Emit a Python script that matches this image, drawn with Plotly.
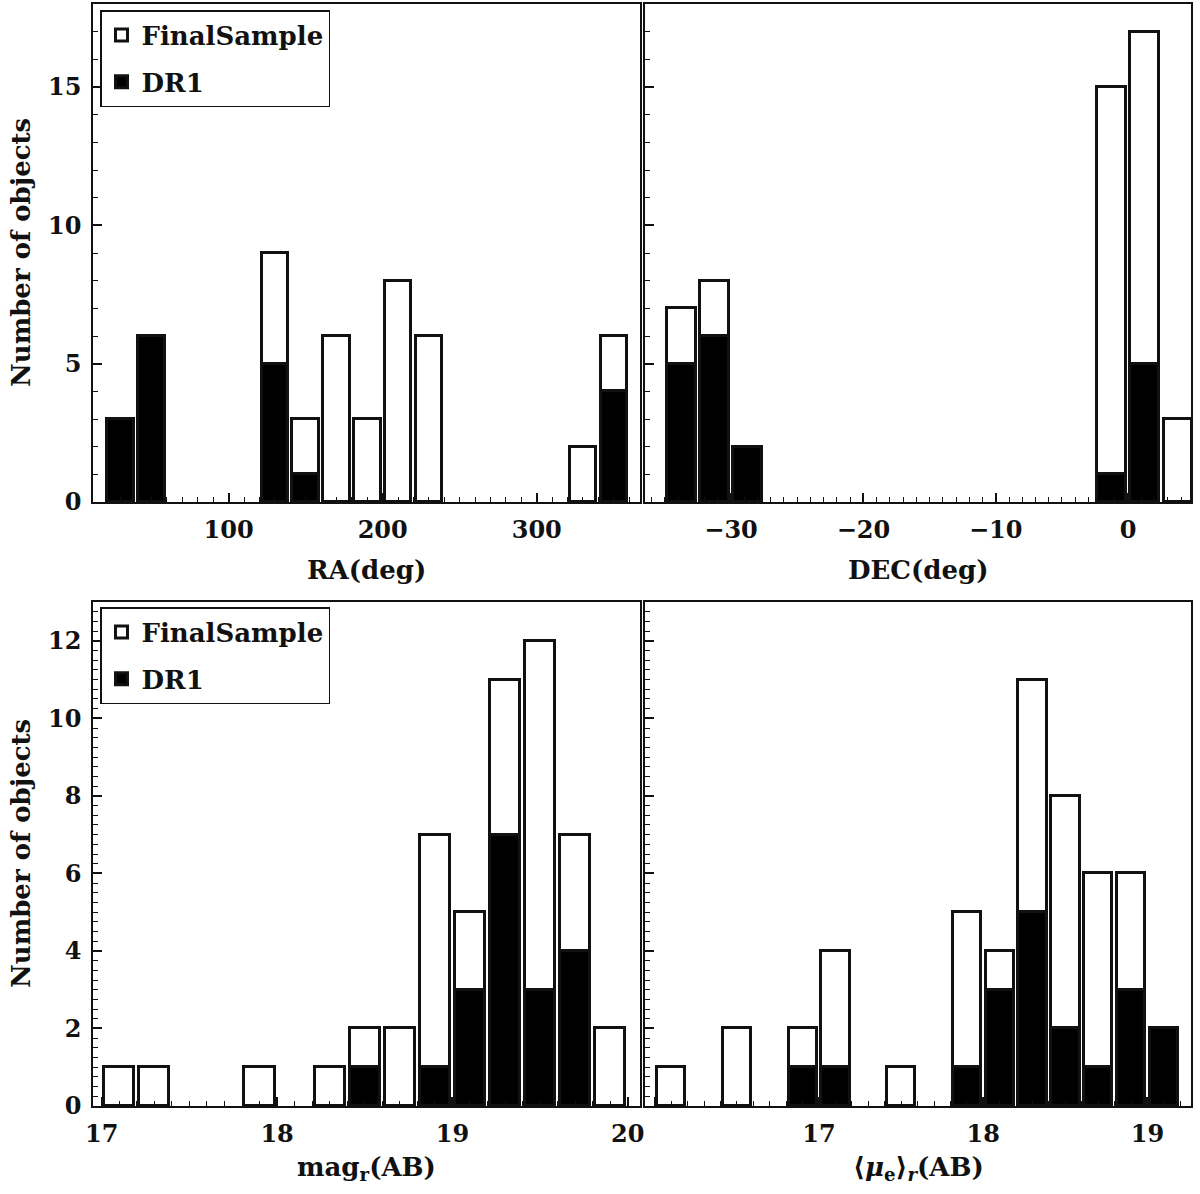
import plotly.graph_objects as go

# RA histogram (bin width 20 deg)
ra_centers = [30, 50, 130, 150, 170, 190, 210, 230, 330, 350]
ra_final = [3, 6, 9, 3, 6, 3, 8, 6, 2, 6]
ra_dr1 = [3, 6, 5, 1, 0, 0, 0, 0, 0, 4]

# DEC histogram (bin width 2.5 deg)
dec_centers = [-33.75, -31.25, -28.75, -1.25, 1.25, 3.75]
dec_final = [7, 8, 2, 15, 17, 3]
dec_dr1 = [5, 6, 2, 1, 5, 0]

# mag_r histogram (bin width 0.2)
mag_centers = [17.1, 17.3, 17.9, 18.3, 18.5, 18.7, 18.9, 19.1, 19.3, 19.5, 19.7, 19.9]
mag_final = [1, 1, 1, 1, 2, 2, 7, 5, 11, 12, 7, 2]
mag_dr1 = [0, 0, 0, 0, 1, 0, 1, 3, 7, 3, 4, 0]

# <mu_e>_r histogram (bin width 0.2)
mu_centers = [16.1, 16.5, 16.9, 17.1, 17.5, 17.9, 18.1, 18.3, 18.5, 18.7, 18.9, 19.1]
mu_final = [1, 2, 2, 4, 1, 5, 4, 11, 8, 6, 6, 2]
mu_dr1 = [0, 0, 1, 1, 0, 1, 3, 5, 2, 1, 3, 2]

W, H = 1200, 1194
FONT = "DejaVu Serif"
INK = "#111111"


def fx(px):
    return px / W


def fy(py):
    return 1 - py / H


# panel pixel boxes: (left, right, top, bottom)
boxes = {
    1: (93, 640, 4, 502),
    2: (645, 1191, 4, 502),
    3: (93, 640, 602, 1106),
    4: (645, 1191, 602, 1106),
}

panels = [
    # idx, centers, final, dr1, binwidth, xrange, yrange, xticks, xminor, ymaj, ymin, legend
    (1, ra_centers, ra_final, ra_dr1, 20, [12, 367], [0, 18], [100, 200, 300], 10, 5, 1, "legend"),
    (2, dec_centers, dec_final, dec_dr1, 2.5, [-36.5, 4.75], [0, 18], [-30, -20, -10, 0], 1, 5, 1, None),
    (3, mag_centers, mag_final, mag_dr1, 0.2, [16.95, 20.07], [0, 13], [17, 18, 19, 20], 0.1, 2, 0.25, "legend2"),
    (4, mu_centers, mu_final, mu_dr1, 0.2, [15.94, 19.265], [0, 13], [16, 17, 18, 19], 0.1, 2, 0.25, None),
]

fig = go.Figure()
layout = {}

for idx, cx, fin, dr1, bw, xr, yr, xt, xmin, ymaj, ymin, leg in panels:
    sfx = "" if idx == 1 else str(idx)
    xa, ya = "x" + sfx, "y" + sfx
    width = bw * 0.86
    fig.add_trace(go.Bar(
        x=cx, y=fin, width=width, name="FinalSample",
        marker=dict(color="white", line=dict(color=INK, width=3)),
        xaxis=xa, yaxis=ya, showlegend=leg is not None,
        legend=leg if leg else "legend", legendgroup="fs" + sfx,
    ))
    fig.add_trace(go.Bar(
        x=cx, y=dr1, width=width, name="DR1",
        marker=dict(color="black", line=dict(color=INK, width=3)),
        xaxis=xa, yaxis=ya, showlegend=leg is not None,
        legend=leg if leg else "legend", legendgroup="dr" + sfx,
    ))

    l, r, t, b = boxes[idx]
    ticktext = [str(v) if v >= 0 else "\u2212" + str(-v) for v in xt]
    if idx == 4:
        ticktext[0] = ""
    layout["xaxis" + sfx] = dict(
        domain=[fx(l), fx(r)], anchor=ya, range=xr,
        tickmode="array", tickvals=xt, ticktext=ticktext,
        ticks="inside", ticklen=9, tickwidth=1.5, tickcolor=INK,
        minor=dict(dtick=xmin, ticks="inside", ticklen=5, tickwidth=1, tickcolor=INK),
        showline=True, mirror=True, linecolor=INK, linewidth=1.5,
        showgrid=False, zeroline=False, ticklabelstandoff=5,
        tickfont=dict(family=FONT, size=24, color=INK, weight="bold"),
        automargin=False,
    )
    layout["yaxis" + sfx] = dict(
        domain=[fy(b), fy(t)], anchor=xa, range=yr,
        dtick=ymaj, ticks="inside", ticklen=9, tickwidth=1.5, tickcolor=INK,
        minor=dict(dtick=ymin, ticks="inside", ticklen=5, tickwidth=1, tickcolor=INK),
        showline=True, mirror=True, linecolor=INK, linewidth=1.5,
        showgrid=False, zeroline=False, showticklabels=idx in (1, 3),
        ticklabelstandoff=5,
        tickfont=dict(family=FONT, size=24, color=INK, weight="bold"),
        automargin=False,
    )

leg_style = dict(
    bgcolor="white", bordercolor=INK, borderwidth=1.5,
    font=dict(family=FONT, size=26, color=INK, weight="bold"),
    xanchor="left", yanchor="top", itemwidth=30, tracegroupgap=10,
    traceorder="grouped",
)
layout["legend"] = dict(x=fx(100), y=fy(10), **leg_style)
layout["legend2"] = dict(x=fx(100), y=fy(607), **leg_style)

titles = [
    ("RA(deg)", 366, 570),
    ("DEC(deg)", 918, 570),
    ("mag<sub>r</sub>(AB)", 366, 1168),
    ("\u27e8<i>\u03bc</i><sub>e</sub>\u27e9<sub><i>r</i></sub>(AB)", 918, 1168),
]
annotations = []
for txt, px, py in titles:
    annotations.append(dict(
        text="<b>" + txt + "</b>", x=fx(px), y=fy(py), xref="paper", yref="paper",
        showarrow=False, xanchor="center", yanchor="middle",
        font=dict(family=FONT, size=26, color=INK),
    ))
for py in (253, 854):
    annotations.append(dict(
        text="<b>Number of objects</b>", x=fx(21), y=fy(py), xref="paper", yref="paper",
        showarrow=False, textangle=-90, xanchor="center", yanchor="middle",
        font=dict(family=FONT, size=26, color=INK),
    ))

fig.update_layout(
    width=W, height=H, margin=dict(l=0, r=0, t=0, b=0),
    barmode="overlay", bargap=0,
    plot_bgcolor="white", paper_bgcolor="white",
    annotations=annotations,
    **layout,
)

# drop the default page margin so the figure sits at the window corner
fig.write_html(
    "out.html",
    config={"displayModeBar": False},
    post_script="document.body.style.margin='0';",
)
